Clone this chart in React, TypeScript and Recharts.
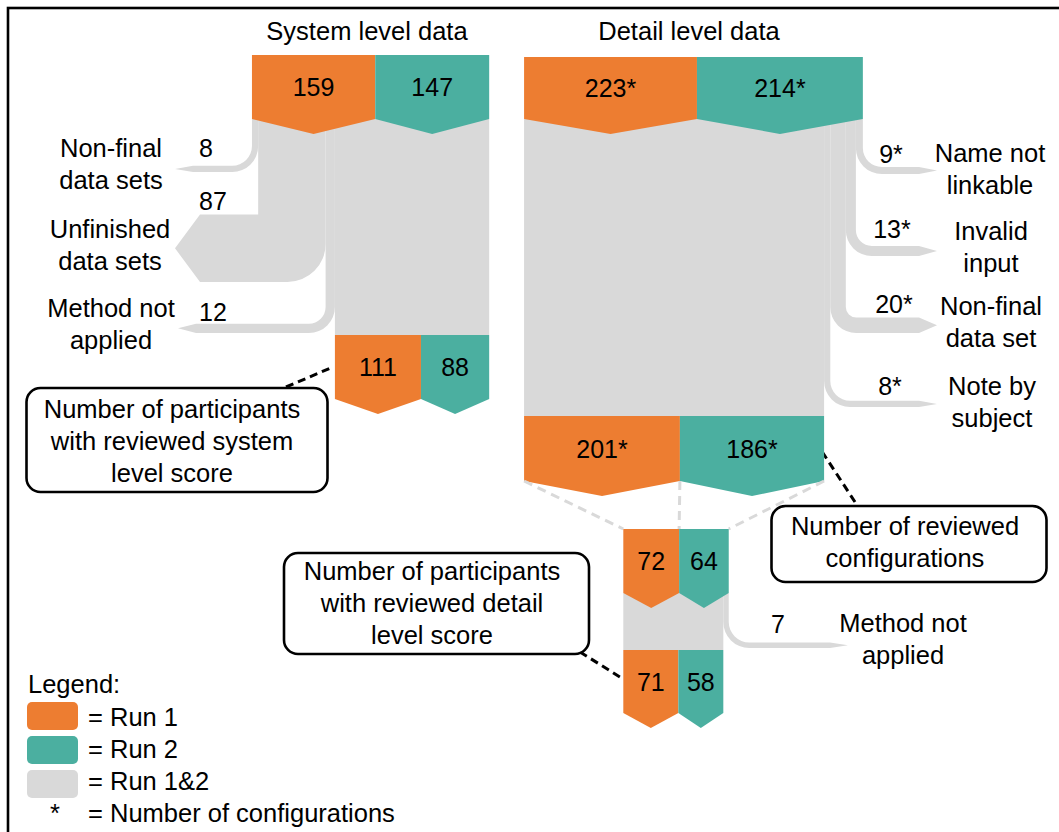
import React from 'react';
import { ComposedChart, XAxis, YAxis, ReferenceArea, ReferenceLine, Customized } from 'recharts';

const W = 1059;
const H = 832;
const FONT = '"Liberation Sans", Arial, Helvetica, sans-serif';
const FS = 25.5;
const NUM_FS = 25;
const LINE = 32;

const ORANGE = '#ED7D31';
const TEAL = '#4BAFA0';
const GRAY = '#D9D9D9';
const RUN_COLORS = [ORANGE, TEAL];

// ---- values ----
const TITLES = ['System level data', 'Detail level data'];
const LEGEND_TITLE = 'Legend:';
const LEGEND_LABELS = ['Run 1', 'Run 2', 'Run 1&2'];
const LEGEND_NOTE = 'Number of configurations';

const SYSTEM_IN = [159, 147];
const SYSTEM_OUT = [111, 88];
const SYSTEM_DROPS = [8, 87, 12];
const SYSTEM_DROP_NAMES = [['Non-final', 'data sets'], ['Unfinished', 'data sets'], ['Method not', 'applied']];

const DETAIL_IN = [223, 214];
const DETAIL_OUT = [201, 186];
const DETAIL_DROPS = [9, 13, 20, 8];
const DETAIL_DROP_NAMES = [['Name not', 'linkable'], ['Invalid', 'input'], ['Non-final', 'data set'], ['Note by', 'subject']];

const SCORE_IN = [72, 64];
const SCORE_OUT = [71, 58];
const SCORE_DROPS = [7];
const SCORE_DROP_NAMES = [['Method not', 'applied']];

const CALLOUTS = [
  ['Number of participants', 'with reviewed system', 'level score'],
  ['Number of participants', 'with reviewed detail', 'level score'],
  ['Number of reviewed', 'configurations'],
];

// ---- layout ----
// flow axis: one unit = one participant / configuration
const X_UNITS = 1366;
const SYS = { x: 325, inTop: 55, inBottom: 119, outTop: 335, outBottom: 399 };
const DET = { x: 676, inTop: 57, inBottom: 119, outTop: 416, outBottom: 481 };
const SCORE = { x: 804, inTop: 529, inBottom: 593, outTop: 650, outBottom: 713 };

const SYSTEM_DROP_POS = [
  { bottom: 172, tip: 175, num: [199, 157], name: [111, 157] },
  { bottom: 282, tip: 175, num: [199, 210], name: [110, 238] },
  { bottom: 333, tip: 178, num: [199, 321], name: [111, 317] },
];
const DETAIL_DROP_POS = [
  { bottom: 174, tip: 937, num: [891, 163], name: [990, 162] },
  { bottom: 256, tip: 937, num: [892, 238], name: [991, 240] },
  { bottom: 333, tip: 937, num: [894, 313], name: [991, 315] },
  { bottom: 407, tip: 937, num: [890, 395], name: [992, 395] },
];
const SCORE_DROP_POS = [{ bottom: 648, tip: 848, num: [778, 633], name: [903, 632] }];

const CALLOUT_BOXES = [
  { x: 26.5, y: 388, w: 301, h: 104, cx: 172, base: 418, from: [286, 387], to: [333, 367] },
  { x: 284, y: 553, w: 305, h: 101, cx: 432, base: 580, from: [580, 652], to: [620, 677] },
  { x: 771.5, y: 506, w: 275, h: 76, cx: 905, base: 535, from: [855, 502], to: [821, 450] },
];

const sum = (a: number[]) => a.reduce((s, v) => s + v, 0);

const txt = { fontFamily: FONT, fontSize: FS, fill: '#000' } as const;

const Chevron = (p: any) => {
  const { x, y, width, height, color, label } = p;
  const tip = 15;
  const pts = `${x},${y} ${x + width},${y} ${x + width},${y + height} ${x + width / 2},${y + height + tip} ${x},${y + height}`;
  return (
    <g>
      <polygon points={pts} fill={color} />
      <text {...txt} fontSize={NUM_FS} x={x + width / 2} y={y + height / 2 + 9} textAnchor="middle">{label}</text>
    </g>
  );
};

const Band = (p: any) => <rect x={p.x} y={p.y} width={p.width} height={p.height} fill={GRAY} />;

const Branch = (p: any) => {
  const { x, y, width, height, dir, pos, value, name } = p;
  const t = width;
  const yb = y + height;
  const L = t > 30 ? 25 : 18;
  const Ro = t > 30 ? 38 : 26;
  const ri = Math.max(0, Ro - t);
  const tip = pos.tip;
  let d: string;
  if (dir < 0) {
    const fx = tip + L;
    d = `M${x},${y} H${x + t} V${yb - Ro} A${Ro},${Ro} 0 0 1 ${x + t - Ro},${yb} H${fx} L${tip},${yb - t / 2} L${fx},${yb - t} H${x - ri} ` +
      (ri > 0 ? `A${ri},${ri} 0 0 0 ${x},${yb - t - ri} ` : '') + 'Z';
  } else {
    const fx = tip - L;
    d = `M${x},${y} H${x + t} V${yb - t - ri} ` + (ri > 0 ? `A${ri},${ri} 0 0 0 ${x + t + ri},${yb - t} ` : '') +
      `H${fx} L${tip},${yb - t / 2} L${fx},${yb} H${x + Ro} A${Ro},${Ro} 0 0 1 ${x},${yb - Ro} Z`;
  }
  return (
    <g>
      <path d={d} fill={GRAY} />
      <text {...txt} fontSize={NUM_FS} x={pos.num[0]} y={pos.num[1]} textAnchor={dir < 0 ? 'start' : 'middle'}>{value}</text>
      {name.map((s: string, i: number) => (
        <text key={i} {...txt} x={pos.name[0]} y={pos.name[1] + i * LINE} textAnchor="middle">{s}</text>
      ))}
    </g>
  );
};

function boxRow(key: string, vals: number[], x0: number, top: number, bottom: number, star: boolean) {
  let acc = x0;
  return vals.map((v, i) => {
    const x1 = acc;
    acc += v;
    return (
      <ReferenceArea key={`${key}${i}`} x1={x1} x2={acc} y1={top} y2={bottom} ifOverflow="visible"
        shape={(p: any) => <Chevron {...p} color={RUN_COLORS[i]} label={star ? `${v}*` : `${v}`} />} />
    );
  });
}

function stage(key: string, L: any, inVals: number[], outVals: number[], drops: number[], names: string[][], pos: any[], dir: number, star: boolean) {
  const total = sum(inVals);
  const through = sum(outVals);
  const start = dir < 0 ? L.x + total - through : L.x;
  const out: React.ReactNode[] = [];
  out.push(
    <ReferenceArea key={`${key}-through`} x1={start} x2={start + through} y1={L.inBottom} y2={L.outTop} ifOverflow="visible"
      shape={(p: any) => <Band {...p} />} />
  );
  let acc = dir < 0 ? L.x : L.x + total;
  drops.forEach((v, i) => {
    let x1: number;
    let x2: number;
    if (dir < 0) { x1 = acc; x2 = acc + v; acc = x2; } else { x2 = acc; x1 = acc - v; acc = x1; }
    out.push(
      <ReferenceArea key={`${key}-drop${i}`} x1={x1} x2={x2} y1={L.inBottom} y2={pos[i].bottom} ifOverflow="visible"
        shape={(p: any) => <Branch {...p} dir={dir} pos={pos[i]} value={star ? `${v}*` : `${v}`} name={names[i]} />} />
    );
  });
  out.push(...boxRow(`${key}-in`, inVals, L.x, L.inTop, L.inBottom, star));
  out.push(...boxRow(`${key}-out`, outVals, start, L.outTop, L.outBottom, star));
  return out;
}

const Overlay = () => (
  <g>
    <rect x={8} y={8} width={1200} height={1000} fill="none" stroke="#000" strokeWidth={2.6} />
    <text {...txt} x={367} y={40} textAnchor="middle">{TITLES[0]}</text>
    <text {...txt} x={689} y={40} textAnchor="middle">{TITLES[1]}</text>
    {CALLOUT_BOXES.map((b, i) => (
      <g key={i}>
        <line x1={b.from[0]} y1={b.from[1]} x2={b.to[0]} y2={b.to[1]} stroke="#000" strokeWidth={3} strokeDasharray="8 5" />
        <rect x={b.x} y={b.y} width={b.w} height={b.h} rx={14} fill="#fff" stroke="#000" strokeWidth={2.6} />
        {CALLOUTS[i].map((s, j) => (
          <text key={j} {...txt} x={b.cx} y={b.base + j * LINE} textAnchor="middle">{s}</text>
        ))}
      </g>
    ))}
    <text {...txt} x={28} y={693}>{LEGEND_TITLE}</text>
    {[ORANGE, TEAL, GRAY].map((c, i) => (
      <g key={c}>
        <rect x={27} y={702 + i * 34} width={51} height={28} rx={5} fill={c} />
        <text {...txt} x={88} y={726 + i * 32}>{`= ${LEGEND_LABELS[i]}`}</text>
      </g>
    ))}
    <text {...txt} x={55} y={822} textAnchor="middle">*</text>
    <text {...txt} x={88} y={822}>{`= ${LEGEND_NOTE}`}</text>
  </g>
);

export default function App() {
  const connectors = [
    [DET.x, SCORE.x],
    [DET.x + DETAIL_OUT[0], SCORE.x + SCORE_IN[0]],
    [DET.x + sum(DETAIL_OUT), SCORE.x + sum(SCORE_IN)],
  ];
  return (
    <div style={{ position: 'absolute', left: 0, top: 0, width: W, height: H, overflow: 'hidden', background: '#fff' }}>
      <ComposedChart width={W} height={H} margin={{ top: 0, right: 0, bottom: 0, left: 0 }}>
        <XAxis type="number" dataKey="x" domain={[0, X_UNITS]} hide allowDataOverflow />
        <YAxis type="number" dataKey="y" domain={[0, H]} reversed hide allowDataOverflow />
        {stage('sys', SYS, SYSTEM_IN, SYSTEM_OUT, SYSTEM_DROPS, SYSTEM_DROP_NAMES, SYSTEM_DROP_POS, -1, false)}
        {stage('det', DET, DETAIL_IN, DETAIL_OUT, DETAIL_DROPS, DETAIL_DROP_NAMES, DETAIL_DROP_POS, 1, true)}
        {stage('score', SCORE, SCORE_IN, SCORE_OUT, SCORE_DROPS, SCORE_DROP_NAMES, SCORE_DROP_POS, 1, false)}
        {connectors.map(([a, b], i) => (
          <ReferenceLine key={`c${i}`} segment={[{ x: a, y: DET.outBottom }, { x: b, y: SCORE.inTop }]} stroke={GRAY}
            strokeWidth={3} strokeDasharray="9 6" ifOverflow="visible" />
        ))}
        <Customized component={Overlay} />
      </ComposedChart>
    </div>
  );
}
